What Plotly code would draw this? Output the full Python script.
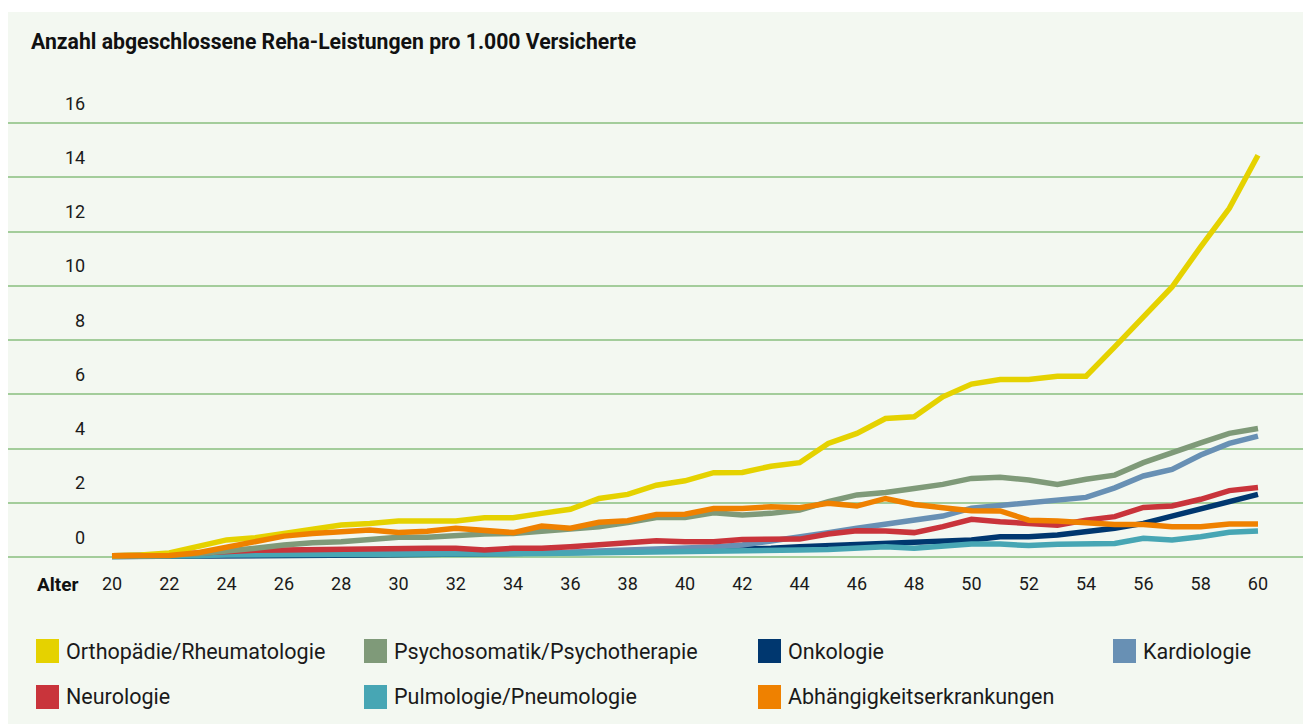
import plotly.graph_objects as go

ages = list(range(20, 61))

series_names = [
    "Orthopädie/Rheumatologie",
    "Psychosomatik/Psychotherapie",
    "Onkologie",
    "Kardiologie",
    "Neurologie",
    "Pulmologie/Pneumologie",
    "Abhängigkeitserkrankungen",
]

orthopaedie = [0.05, 0.07, 0.15, 0.37, 0.63, 0.71, 0.87, 1.0, 1.18, 1.24, 1.33, 1.33, 1.33, 1.45, 1.45,
               1.61, 1.76, 2.16, 2.31, 2.65, 2.81, 3.11, 3.12, 3.35, 3.48, 4.19, 4.56, 5.11, 5.17, 5.91,
               6.38, 6.55, 6.55, 6.67, 6.67, 7.75, 8.86, 9.96, 11.44, 12.86, 14.82]
psychosomatik = [0.05, 0.05, 0.07, 0.12, 0.2, 0.32, 0.44, 0.53, 0.56, 0.63, 0.73, 0.73, 0.81, 0.85, 0.87,
                 0.96, 1.03, 1.12, 1.27, 1.46, 1.46, 1.63, 1.55, 1.61, 1.73, 2.04, 2.29, 2.38, 2.53, 2.68,
                 2.9, 2.94, 2.84, 2.68, 2.87, 3.02, 3.48, 3.82, 4.21, 4.56, 4.74]
onkologie = [0.02, 0.02, 0.03, 0.04, 0.05, 0.05, 0.06, 0.06, 0.07, 0.07, 0.08, 0.09, 0.1, 0.1, 0.12,
             0.13, 0.15, 0.17, 0.19, 0.22, 0.24, 0.26, 0.28, 0.32, 0.38, 0.42, 0.48, 0.54, 0.54, 0.6,
             0.63, 0.75, 0.75, 0.81, 0.92, 1.06, 1.24, 1.51, 1.73, 2.0, 2.31]
kardiologie = [0.03, 0.03, 0.04, 0.06, 0.08, 0.09, 0.1, 0.1, 0.1, 0.1, 0.12, 0.12, 0.13, 0.12, 0.14,
               0.16, 0.18, 0.22, 0.27, 0.33, 0.33, 0.37, 0.44, 0.59, 0.72, 0.9, 1.06, 1.22, 1.39, 1.51,
               1.8, 1.9, 2.04, 2.1, 2.2, 2.55, 2.99, 3.23, 3.76, 4.19, 4.46]
neurologie = [0.05, 0.05, 0.08, 0.15, 0.22, 0.25, 0.26, 0.28, 0.28, 0.28, 0.32, 0.32, 0.32, 0.26, 0.32,
              0.32, 0.38, 0.44, 0.5, 0.6, 0.56, 0.56, 0.65, 0.65, 0.66, 0.85, 0.97, 0.96, 0.9, 1.12,
              1.39, 1.3, 1.22, 1.17, 1.36, 1.49, 1.83, 1.88, 2.13, 2.45, 2.56]
pulmologie = [0.02, 0.02, 0.03, 0.05, 0.08, 0.08, 0.07, 0.08, 0.08, 0.08, 0.1, 0.12, 0.12, 0.07, 0.12,
              0.13, 0.14, 0.15, 0.15, 0.18, 0.2, 0.2, 0.2, 0.2, 0.26, 0.28, 0.34, 0.38, 0.32, 0.42,
              0.48, 0.48, 0.42, 0.47, 0.47, 0.5, 0.69, 0.63, 0.75, 0.91, 0.96]
abhaengigkeit = [0.05, 0.05, 0.06, 0.16, 0.36, 0.6, 0.77, 0.87, 0.93, 1.0, 0.9, 0.95, 1.06, 1.0, 0.9,
                 1.14, 1.06, 1.28, 1.34, 1.57, 1.58, 1.79, 1.79, 1.85, 1.82, 1.98, 1.88, 2.16, 1.94, 1.82,
                 1.71, 1.7, 1.36, 1.33, 1.24, 1.2, 1.2, 1.12, 1.12, 1.22, 1.22]

colors = ["#e5d200", "#7f9a79", "#00376f", "#6890b4", "#c9343b", "#47a6b4", "#ef8100"]
values = [orthopaedie, psychosomatik, onkologie, kardiologie, neurologie, pulmologie, abhaengigkeit]

x_ticks = list(range(20, 61, 2))
y_ticks = list(range(0, 17, 2))

title_text = "Anzahl abgeschlossene Reha-Leistungen pro 1.000 Versicherte"
x_title = "Alter"

W, H = 1311, 724
OFF = 8  # page offset of the figure (body margin)
ML, MR, MT, MB = 0, 0, 60, 161
PW, PH = W - ML - MR, H - MT - MB


def px(x):
    """page x pixel -> paper coordinate"""
    return (x - OFF - ML) / PW


def py(y):
    """page y pixel -> paper coordinate"""
    return (H - MB - (y - OFF)) / PH


fig = go.Figure()

draw_order = [2, 3, 5, 4, 1, 0, 6]
for i in draw_order:
    fig.add_trace(go.Scatter(
        x=ages, y=values[i], mode="lines", name=series_names[i],
        line=dict(color=colors[i], width=5.5), showlegend=False,
    ))

font_main = "Roboto"

fig.update_layout(
    width=W, height=H,
    margin=dict(l=ML, r=MR, t=MT, b=MB, pad=0),
    paper_bgcolor="white",
    plot_bgcolor="rgba(0,0,0,0)",
    font=dict(family=font_main, color="#1a1a1a"),
    xaxis=dict(
        range=[16.370, 62.13], tickvals=x_ticks, ticks="", showgrid=False, zeroline=False,
        showline=False, tickfont=dict(size=18, family=font_main, color="#1a1a1a"),
    ),
    yaxis=dict(
        range=[-0.516, 18.037], dtick=2, tick0=0, showticklabels=False, ticks="",
        showgrid=True, gridcolor="#a3cd9b", gridwidth=1.5, zeroline=False, showline=False,
    ),
)

# panel background
fig.add_shape(type="rect", xref="paper", yref="paper", x0=px(7), x1=1.01, y0=py(740), y1=py(12),
              fillcolor="#f3f8f1", line=dict(width=0), layer="below")

# y tick labels (sit above their gridlines)
for v in y_ticks:
    fig.add_annotation(x=px(87), xref="paper", y=v, yref="y", text=str(v), showarrow=False,
                       xanchor="right", yanchor="middle", yshift=20,
                       font=dict(size=18, family=font_main, color="#1a1a1a"))

fig.add_annotation(x=px(29), xref="paper", y=py(41), yref="paper", text="<b>" + title_text + "</b>",
                   showarrow=False, xanchor="left", yanchor="middle",
                   font=dict(size=21.2, family=font_main, color="#111111"))

fig.add_annotation(x=px(35), xref="paper", y=py(584), yref="paper", text="<b>" + x_title + "</b>",
                   showarrow=False, xanchor="left", yanchor="middle",
                   font=dict(size=19, family=font_main, color="#111111"))

# legend
legend_pos = [(36, 651), (364, 651), (758, 651), (1113, 651), (36, 697), (364, 697), (758, 697)]
for i, (lx, ly) in enumerate(legend_pos):
    fig.add_shape(type="rect", xref="paper", yref="paper", x0=px(lx), x1=px(lx + 23),
                  y0=py(ly + 12), y1=py(ly - 12), fillcolor=colors[i], line=dict(width=0))
    fig.add_annotation(x=px(lx + 28), xref="paper", y=py(ly), yref="paper", text=series_names[i],
                       showarrow=False, xanchor="left", yanchor="middle",
                       font=dict(size=21.5, family=font_main, color="#1a1a1a"))

fig.write_html("out.html")
